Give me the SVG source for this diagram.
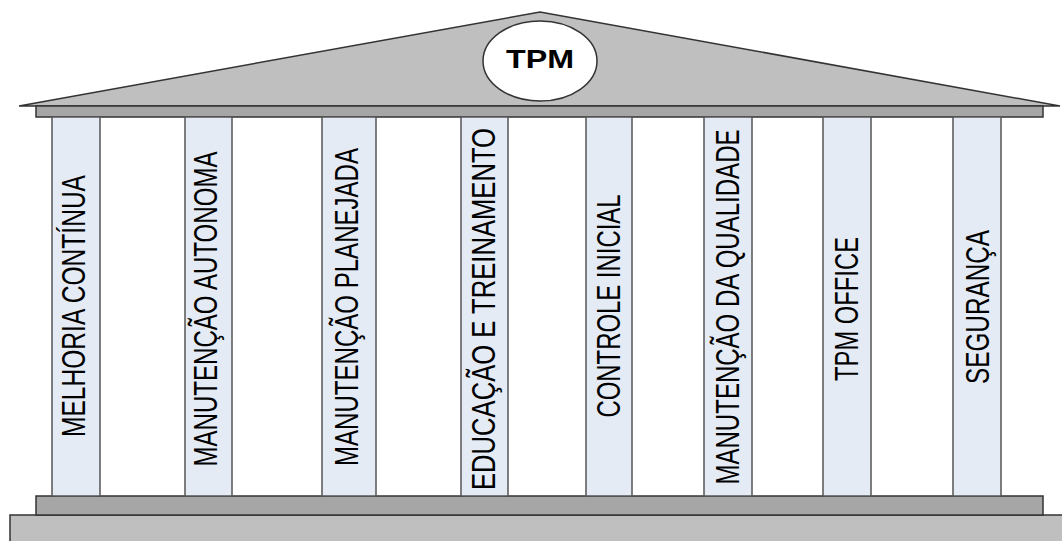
<svg xmlns="http://www.w3.org/2000/svg" width="1062" height="541" viewBox="0 0 1062 541">
<style>
.roof{fill:#bfbfbf;stroke:#333;stroke-width:1.5}
.bar{fill:#a6a6a6;stroke:#333;stroke-width:1.5}
.base{fill:#bfbfbf;stroke:#333;stroke-width:1.5}
.col{fill:#e4ebf5;stroke:#555;stroke-width:1.5}
.lbl{font-family:"Liberation Sans",Arial,sans-serif;font-size:33px;fill:#000;text-anchor:middle}
.title{font-family:"Liberation Sans",Arial,sans-serif;font-size:25px;font-weight:bold;fill:#000;text-anchor:middle}
</style>
<rect width="1062" height="541" fill="#fff"/>
<g id="base">
<rect class="base" x="10" y="515" width="1060" height="40"/>
<rect class="bar" x="36" y="496" width="1007" height="19"/>
</g>
<g id="roof">
<polygon class="roof" points="19,106 540,12 1060,106"/>
<rect class="bar" x="36" y="106" width="1007" height="11"/>
</g>
<g id="tpm">
<ellipse cx="540" cy="61" rx="57" ry="40" fill="#fff" stroke="#333" stroke-width="1.5"/>
<text class="title" x="540" y="68" textLength="68" lengthAdjust="spacingAndGlyphs">TPM</text>
</g>
<g id="p1"><rect class="col" x="52" y="117" width="48" height="379"/><text class="lbl" transform="translate(85,306) rotate(-90)" textLength="262" lengthAdjust="spacingAndGlyphs">MELHORIA CONTÍNUA</text></g>
<g id="p2"><rect class="col" x="185" y="117" width="47" height="379"/><text class="lbl" transform="translate(217,309) rotate(-90)" textLength="315" lengthAdjust="spacingAndGlyphs">MANUTENÇÃO AUTONOMA</text></g>
<g id="p3"><rect class="col" x="322" y="117" width="54" height="379"/><text class="lbl" transform="translate(358,307) rotate(-90)" textLength="318" lengthAdjust="spacingAndGlyphs">MANUTENÇÃO PLANEJADA</text></g>
<g id="p4"><rect class="col" x="461" y="117" width="47" height="379"/><text class="lbl" transform="translate(495,309) rotate(-90)" textLength="362" lengthAdjust="spacingAndGlyphs">EDUCAÇÃO E TREINAMENTO</text></g>
<g id="p5"><rect class="col" x="586" y="117" width="46" height="379"/><text class="lbl" transform="translate(620,306) rotate(-90)" textLength="223" lengthAdjust="spacingAndGlyphs">CONTROLE INICIAL</text></g>
<g id="p6"><rect class="col" x="704" y="117" width="48" height="379"/><text class="lbl" transform="translate(739,307) rotate(-90)" textLength="355" lengthAdjust="spacingAndGlyphs">MANUTENÇÃO DA QUALIDADE</text></g>
<g id="p7"><rect class="col" x="823" y="117" width="48" height="379"/><text class="lbl" transform="translate(858,309) rotate(-90)" textLength="144" lengthAdjust="spacingAndGlyphs">TPM OFFICE</text></g>
<g id="p8"><rect class="col" x="953" y="117" width="48" height="379"/><text class="lbl" transform="translate(989,307) rotate(-90)" textLength="154" lengthAdjust="spacingAndGlyphs">SEGURANÇA</text></g>
</svg>
